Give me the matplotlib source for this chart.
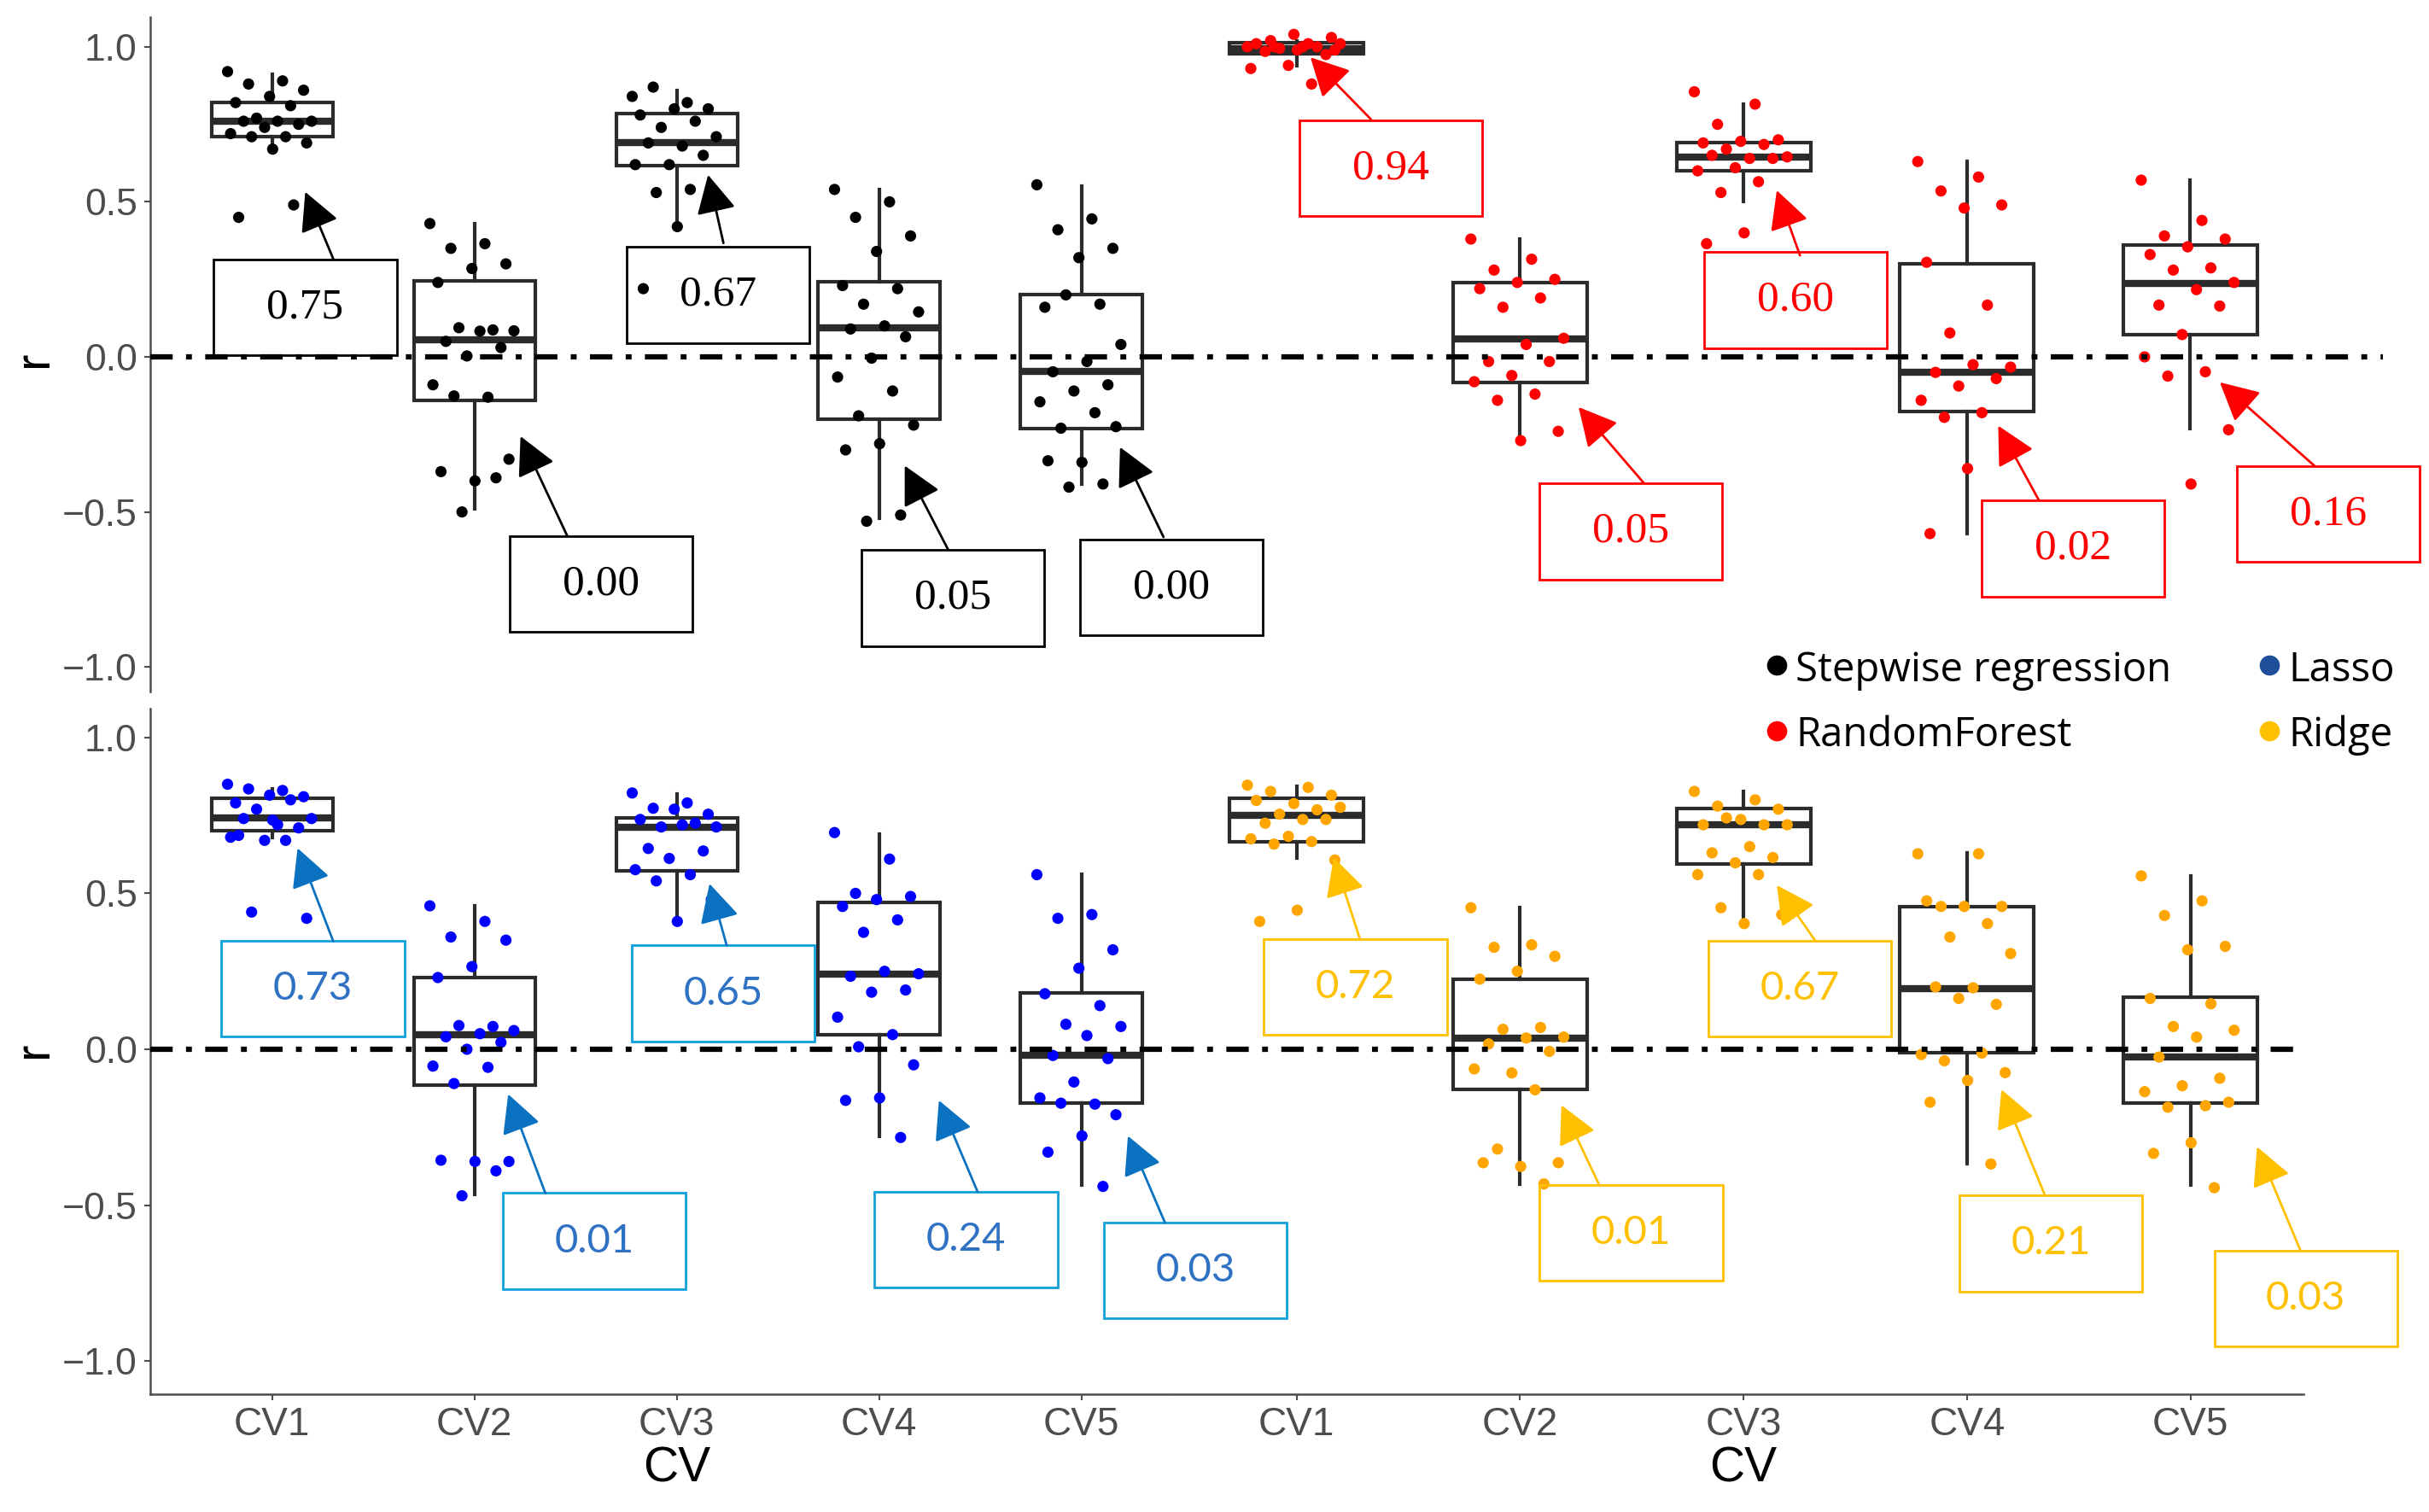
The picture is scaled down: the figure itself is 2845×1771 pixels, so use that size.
import numpy as np
import matplotlib
matplotlib.use("Agg")
import matplotlib.pyplot as plt
import matplotlib.transforms as mtransforms
from matplotlib.patches import Rectangle, FancyArrowPatch
from matplotlib.lines import Line2D

plt.rcParams['font.family'] = ['Liberation Sans', 'DejaVu Sans']

# ---------------- data ----------------
cv_labels = ['CV1', 'CV2', 'CV3', 'CV4', 'CV5']
tick_vals = [-1.0, -0.5, 0.0, 0.5, 1.0]
tick_text = ['\u22121.0', '\u22120.5', '0.0', '0.5', '1.0']

# r of every fold, per CV scheme
stepwise_r = [
    [0.92, 0.89, 0.88, 0.86, 0.84, 0.82, 0.81, 0.77, 0.76, 0.76, 0.76, 0.75, 0.74, 0.72, 0.71, 0.71, 0.69, 0.67, 0.45, 0.49],
    [0.43, 0.365, 0.35, 0.30, 0.285, 0.24, 0.087, 0.094, 0.084, 0.083, 0.05, 0.03, 0.003, -0.09, -0.13, -0.126, -0.33, -0.40, -0.37, -0.39, -0.50],
    [0.84, 0.82, 0.87, 0.80, 0.80, 0.78, 0.76, 0.74, 0.71, 0.68, 0.69, 0.65, 0.62, 0.62, 0.54, 0.53, 0.51, 0.42, 0.22],
    [0.54, 0.50, 0.45, 0.39, 0.34, 0.23, 0.22, 0.17, 0.145, 0.10, 0.09, 0.065, -0.004, -0.065, -0.11, -0.19, -0.22, -0.28, -0.30, -0.51, -0.53],
    [0.555, 0.445, 0.41, 0.35, 0.32, 0.16, 0.17, 0.20, 0.04, -0.015, -0.048, -0.09, -0.11, -0.145, -0.18, -0.23, -0.225, -0.34, -0.335, -0.41, -0.42],
]
forest_r = [
    [1.0, 1.01, 1.02, 1.03, 1.04, 1.01, 1.0, 0.995, 1.01, 1.0, 0.985, 0.975, 0.94, 0.93, 0.88, 1.0, 0.99, 0.99],
    [0.38, 0.315, 0.28, 0.25, 0.24, 0.22, 0.19, 0.16, 0.06, 0.04, -0.015, -0.015, -0.06, -0.08, -0.12, -0.14, -0.24, -0.27],
    [0.855, 0.815, 0.75, 0.70, 0.695, 0.69, 0.685, 0.67, 0.645, 0.64, 0.65, 0.64, 0.61, 0.60, 0.565, 0.53, 0.49, 0.40, 0.365],
    [0.63, 0.58, 0.535, 0.49, 0.48, 0.305, 0.167, 0.077, -0.033, -0.025, -0.05, -0.07, -0.094, -0.14, -0.18, -0.195, -0.31, -0.36, -0.57],
    [0.57, 0.44, 0.39, 0.38, 0.355, 0.33, 0.287, 0.28, 0.24, 0.217, 0.167, 0.164, 0.072, 0.0, -0.048, -0.062, -0.235, -0.41],
]
lasso_r = [
    [0.85, 0.83, 0.835, 0.81, 0.815, 0.79, 0.80, 0.77, 0.74, 0.72, 0.74, 0.71, 0.67, 0.68, 0.67, 0.44, 0.42, 0.735, 0.686],
    [0.46, 0.41, 0.36, 0.35, 0.265, 0.23, 0.073, 0.076, 0.06, 0.05, 0.04, 0.022, 0.0, -0.054, -0.058, -0.11, -0.36, -0.36, -0.356, -0.39, -0.47],
    [0.822, 0.79, 0.773, 0.754, 0.77, 0.737, 0.725, 0.713, 0.713, 0.72, 0.644, 0.636, 0.612, 0.576, 0.56, 0.54, 0.48, 0.41],
    [0.695, 0.61, 0.50, 0.49, 0.48, 0.458, 0.415, 0.375, 0.242, 0.25, 0.234, 0.19, 0.183, 0.103, 0.047, 0.008, -0.05, -0.156, -0.164, -0.283],
    [0.56, 0.432, 0.42, 0.319, 0.26, 0.178, 0.14, 0.08, 0.073, 0.044, -0.02, -0.03, -0.105, -0.156, -0.176, -0.173, -0.21, -0.278, -0.33, -0.44],
]
ridge_r = [
    [0.847, 0.84, 0.827, 0.815, 0.788, 0.798, 0.768, 0.754, 0.776, 0.737, 0.725, 0.737, 0.683, 0.675, 0.666, 0.658, 0.607, 0.446, 0.41],
    [0.454, 0.335, 0.327, 0.298, 0.25, 0.225, 0.07, 0.064, 0.039, 0.036, 0.017, -0.007, -0.076, -0.063, -0.13, -0.32, -0.364, -0.376, -0.364, -0.432],
    [0.827, 0.80, 0.78, 0.77, 0.737, 0.72, 0.72, 0.742, 0.72, 0.65, 0.63, 0.615, 0.598, 0.56, 0.56, 0.454, 0.432, 0.403],
    [0.627, 0.627, 0.458, 0.458, 0.458, 0.476, 0.403, 0.36, 0.307, 0.197, 0.20, 0.144, 0.163, -0.017, -0.012, -0.037, -0.075, -0.10, -0.17, -0.368],
    [0.556, 0.476, 0.429, 0.33, 0.319, 0.163, 0.146, 0.073, 0.061, 0.039, -0.025, -0.093, -0.117, -0.136, -0.181, -0.186, -0.17, -0.30, -0.334, -0.444],
]

# box summaries (lower whisker, Q1, median, Q3, upper whisker)
stepwise_box = dict(lo=[0.67, -0.49, 0.42, -0.52, -0.41], q1=[0.71, -0.14, 0.616, -0.20, -0.23],
                    med=[0.76, 0.055, 0.69, 0.094, -0.048], q3=[0.82, 0.246, 0.784, 0.243, 0.20],
                    hi=[0.91, 0.43, 0.86, 0.54, 0.55])
forest_box = dict(lo=[0.94, -0.27, 0.50, -0.57, -0.23], q1=[0.977, -0.083, 0.60, -0.175, 0.072],
                  med=[0.995, 0.058, 0.645, -0.05, 0.236], q3=[1.013, 0.24, 0.69, 0.30, 0.36],
                  hi=[1.02, 0.38, 0.815, 0.63, 0.57])
lasso_box = dict(lo=[0.68, -0.466, 0.41, -0.28, -0.436], q1=[0.70, -0.114, 0.573, 0.047, -0.173],
                 med=[0.742, 0.047, 0.713, 0.24, -0.02], q3=[0.805, 0.23, 0.742, 0.47, 0.18],
                 hi=[0.835, 0.46, 0.82, 0.69, 0.56])
ridge_box = dict(lo=[0.612, -0.432, 0.41, -0.368, -0.436], q1=[0.666, -0.13, 0.595, -0.012, -0.173],
                 med=[0.75, 0.036, 0.72, 0.195, -0.025], q3=[0.805, 0.225, 0.773, 0.458, 0.166],
                 hi=[0.844, 0.454, 0.827, 0.63, 0.556])

# numbers written in the call-out boxes
stepwise_notes = ['0.75', '0.00', '0.67', '0.05', '0.00']
forest_notes = ['0.94', '0.05', '0.60', '0.02', '0.16']
lasso_notes = ['0.73', '0.01', '0.65', '0.24', '0.03']
ridge_notes = ['0.72', '0.01', '0.67', '0.21', '0.03']

# ---------------- layout (reference grid 1568 x 977) ----------------
GW, GH = 1568.0, 977.0
fig = plt.figure(figsize=(28.45, 17.71), dpi=100)


def add_ax(l, t, r, b):
    return fig.add_axes([l / GW, 1 - b / GH, (r - l) / GW, (b - t) / GH])


# call-out placement: (box centre, arrow start, arrow tip) in data units
stepwise_callout = [((1.164, 0.160), (1.302, 0.317), (1.164, 0.532)),
                    ((2.626, -0.733), (2.458, -0.576), (2.228, -0.256)),
                    ((3.204, 0.200), (3.231, 0.367), (3.155, 0.587)),
                    ((4.364, -0.778), (4.341, -0.621), (4.127, -0.351)),
                    ((5.444, -0.743), (5.406, -0.581), (5.191, -0.291))]
forest_callout = [((1.423, 0.609), (1.333, 0.766), (1.062, 0.966)),
                  ((2.497, -0.563), (2.553, -0.406), (2.262, -0.162)),
                  ((3.232, 0.183), (3.253, 0.327), (3.149, 0.537)),
                  ((4.473, -0.618), (4.321, -0.461), (4.140, -0.222)),
                  ((5.617, -0.506), (5.555, -0.351), (5.132, -0.082))]
lasso_callout = [((1.202, 0.194), (1.302, 0.347), (1.126, 0.645)),
                 ((2.592, -0.615), (2.351, -0.462), (2.167, -0.144)),
                 ((3.231, 0.179), (3.247, 0.333), (3.162, 0.531)),
                 ((4.430, -0.610), (4.487, -0.457), (4.296, -0.164)),
                 ((5.563, -0.710), (5.413, -0.556), (5.230, -0.278))]
ridge_callout = [((1.263, 0.199), (1.284, 0.352), (1.166, 0.615)),
                 ((2.497, -0.588), (2.352, -0.432), (2.185, -0.179)),
                 ((3.253, 0.194), (3.322, 0.347), (3.149, 0.526)),
                 ((4.376, -0.623), (4.348, -0.467), (4.154, -0.129)),
                 ((5.516, -0.799), (5.492, -0.645), (5.298, -0.313))]

GREY = '#4D4D4D'
BOXC = '#2B2B2B'


def jitter(n):
    # fixed golden-ratio spread, same every run
    return ((np.arange(n) * 0.6180339887) % 1.0 - 0.5) * 0.44


def panel(ax, box, pts, color, xlim, ylim):
    stats = []
    for i in range(5):
        stats.append(dict(whislo=box['lo'][i], q1=box['q1'][i], med=box['med'][i],
                          q3=box['q3'][i], whishi=box['hi'][i], fliers=[]))
    ax.bxp(stats, positions=range(1, 6), widths=0.6, showcaps=False, showfliers=False,
           patch_artist=True,
           boxprops=dict(facecolor='white', edgecolor=BOXC, linewidth=3.0),
           whiskerprops=dict(color=BOXC, linewidth=3.0),
           medianprops=dict(color=BOXC, linewidth=6, solid_capstyle='butt'))
    for i, vals in enumerate(pts):
        x = np.full(len(vals), i + 1.0) + jitter(len(vals))
        ax.scatter(x, vals, s=90, color=color, edgecolors='none', zorder=4)
    ax.axhline(0, color='black', linewidth=4.5, linestyle=(0, (4.2, 2.5, 1.1, 2.5)),
               dash_capstyle='butt', zorder=5)
    ax.set_xlim(*xlim)
    ax.set_ylim(*ylim)
    for s in ax.spines.values():
        s.set_visible(False)
    ax.set_xticks([])
    ax.set_yticks([])
    ax.patch.set_alpha(0)


def callouts(ax, notes, places, ppu, edge, tcolor, acolor, family, size):
    bw, bh = 118.0 / ppu[0], 62.0 / ppu[1]
    for note, (c, a, b) in zip(notes, places):
        ax.add_patch(Rectangle((c[0] - bw / 2, c[1] - bh / 2), bw, bh, fill=False,
                               edgecolor=edge, linewidth=2, clip_on=False, zorder=6))
        ax.text(c[0], c[1], note, ha='center', va='center', color=tcolor,
                family=family, fontsize=size, zorder=7, clip_on=False)
        ax.add_patch(FancyArrowPatch(a, b, arrowstyle='-|>,head_length=28,head_width=14.5',
                                     mutation_scale=1, shrinkA=0, shrinkB=0, color=acolor,
                                     linewidth=2, clip_on=False, zorder=7))


def left_axis(ax):
    ax.spines['left'].set_visible(True)
    ax.spines['left'].set_color(GREY)
    ax.spines['left'].set_linewidth(1.8)
    ax.set_yticks(tick_vals)
    ax.set_yticklabels(tick_text)
    ax.tick_params(axis='y', length=5, width=1.5, color=GREY, pad=6,
                   labelsize=32, labelcolor=GREY)


def bottom_axis(ax):
    ax.spines['bottom'].set_visible(True)
    ax.spines['bottom'].set_color(GREY)
    ax.spines['bottom'].set_linewidth(1.8)
    ax.set_xticks(range(1, 6))
    ax.set_xticklabels(cv_labels)
    ax.tick_params(axis='x', length=5, width=1.5, color=GREY, pad=5,
                   labelsize=33, labelcolor=GREY)


# left panels: CV1 at x=175.6, 130.6 px per CV step; right panels: CV1 at 837, 144.25 px
xl_left = (0.398, 5.436)
xl_right_top = (0.4385, 5.86)
xl_right_bot = (0.4385, 5.506)
yl_top = (-1.080, 1.096)
yl_bot = (-1.107, 1.092)

ax_sw = add_ax(97, 11, 755, 447)
ax_rf = add_ax(756, 11, 1538, 447)
ax_la = add_ax(97, 458, 755, 901)
ax_ri = add_ax(756, 458, 1487, 901)

panel(ax_sw, stepwise_box, stepwise_r, 'black', xl_left, yl_top)
panel(ax_rf, forest_box, forest_r, '#FF0000', xl_right_top, yl_top)
panel(ax_la, lasso_box, lasso_r, '#0000FF', xl_left, yl_bot)
panel(ax_ri, ridge_box, ridge_r, '#FFA500', xl_right_bot, yl_bot)

left_axis(ax_sw)
left_axis(ax_la)
bottom_axis(ax_la)
bottom_axis(ax_ri)

serif = ['Liberation Serif', 'DejaVu Serif']
sans = ['Lato', 'DejaVu Sans']
legend_font = ['Open Sans', 'DejaVu Sans']
callouts(ax_sw, stepwise_notes, stepwise_callout, (130.6, 200.4), 'black', 'black', 'black', serif, 37)
callouts(ax_rf, forest_notes, forest_callout, (144.25, 200.4), '#FF0000', '#FF0000', '#FF0000', serif, 37)
callouts(ax_la, lasso_notes, lasso_callout, (130.6, 201.5), '#12A0DC', '#2F72C4', '#0A72C0', sans, 34)
callouts(ax_ri, ridge_notes, ridge_callout, (144.25, 201.5), '#FFC000', '#FFC000', '#FFC000', sans, 34)

# axis titles
for ax in (ax_la, ax_ri):
    tr = mtransforms.blended_transform_factory(ax.transData, fig.transFigure)
    ax.text(3, 1 - 949 / GH, 'CV', transform=tr, ha='center', va='center',
            fontsize=41, color='black')
for yy in (232, 678):
    fig.text(22 / GW, 1 - yy / GH, 'r', rotation=90, ha='center', va='center',
             fontsize=42, color='black')

# legend
legend_items = [('Stepwise regression', 'black', 1147, 430),
                ('Lasso', '#1F4E9A', 1465, 430),
                ('RandomForest', '#FF0000', 1147, 472),
                ('Ridge', '#FFC000', 1465, 472)]
for name, col, lx, ly in legend_items:
    fig.add_artist(Line2D([lx / GW], [1 - ly / GH], marker='o', markersize=16,
                          color=col, linestyle='none', transform=fig.transFigure))
    fig.text((lx + 12) / GW, 1 - ly / GH, name, ha='left', va='center_baseline',
             family=legend_font, fontsize=34, color='black')

fig.savefig('out.png', dpi=100, facecolor='white')
